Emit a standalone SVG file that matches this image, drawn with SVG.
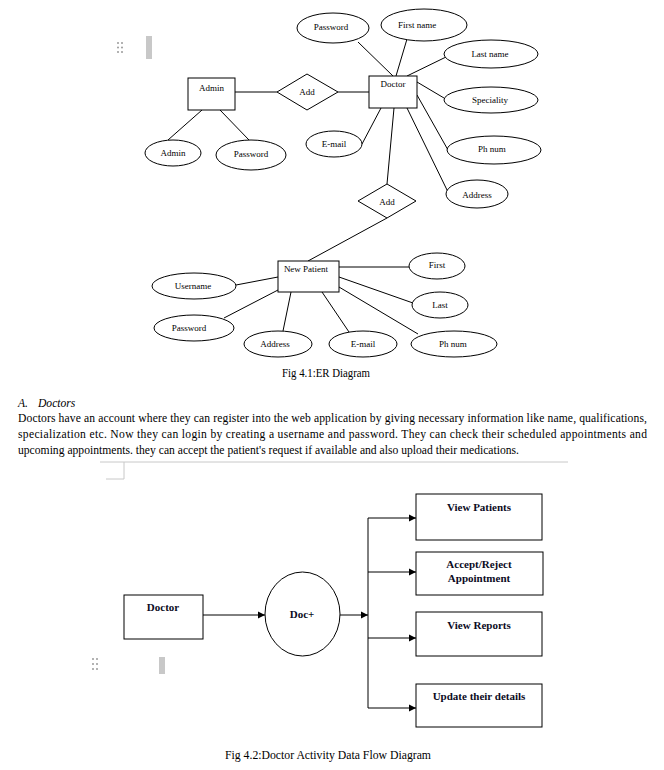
<svg xmlns="http://www.w3.org/2000/svg" width="664" height="770" viewBox="0 0 664 770">
<defs>
<style>
.s{fill:#fff;stroke:#000;stroke-width:1}
.l{stroke:#000;stroke-width:1;fill:none}
.t{font-family:"Liberation Serif","Times New Roman",serif;font-size:9px;fill:#000;text-anchor:middle}
.b{font-family:"Liberation Serif","Times New Roman",serif;font-size:11px;font-weight:bold;fill:#0b0b1e;text-anchor:middle}
.p{font-family:"Liberation Serif","Times New Roman",serif;font-size:11.6px;fill:#000}
.d{fill:#9a9a9a}
</style>
<marker id="ah" markerWidth="8" markerHeight="8" refX="7" refY="4" orient="auto" markerUnits="userSpaceOnUse">
<path d="M0,0.5 L7,4 L0,7.5 Z" fill="#000"/>
</marker>
</defs>
<rect width="664" height="770" fill="#fff"/>

<!-- UI artifacts -->
<g id="handle1">
<circle cx="118" cy="43" r="1" class="d"/><circle cx="122" cy="43" r="1" class="d"/>
<circle cx="118" cy="47.5" r="1" class="d"/><circle cx="122" cy="47.5" r="1" class="d"/>
<circle cx="118" cy="52" r="1" class="d"/><circle cx="122" cy="52" r="1" class="d"/>
<rect x="146" y="36" width="6" height="23" fill="#c8c8c8"/>
</g>
<g id="handle2">
<circle cx="93" cy="659" r="1" class="d"/><circle cx="97" cy="659" r="1" class="d"/>
<circle cx="93" cy="664" r="1" class="d"/><circle cx="97" cy="664" r="1" class="d"/>
<circle cx="93" cy="669" r="1" class="d"/><circle cx="97" cy="669" r="1" class="d"/>
<rect x="159" y="657" width="6" height="17" fill="#c8c8c8"/>
</g>

<!-- ER connectors -->
<g id="er-connectors" class="l">
<line x1="235" y1="92" x2="277" y2="92"/>
<line x1="338" y1="92" x2="369" y2="92"/>
<line x1="202" y1="110" x2="168" y2="140"/>
<line x1="220" y1="110" x2="249" y2="140"/>
<line x1="358" y1="42" x2="393" y2="76"/>
<line x1="407" y1="39" x2="396" y2="76"/>
<line x1="446" y1="57" x2="407" y2="76"/>
<line x1="417" y1="82" x2="444" y2="98"/>
<line x1="417" y1="95" x2="448" y2="150"/>
<line x1="407" y1="108" x2="448" y2="192"/>
<line x1="381" y1="108" x2="362" y2="144"/>
<line x1="394" y1="108" x2="387" y2="184"/>
<line x1="387" y1="218" x2="308" y2="261"/>
<line x1="339" y1="267" x2="409" y2="267"/>
<line x1="339" y1="277" x2="413" y2="303"/>
<line x1="339" y1="287" x2="418" y2="334"/>
<line x1="322" y1="292" x2="349" y2="332"/>
<line x1="291" y1="292" x2="283" y2="331"/>
<line x1="278" y1="290" x2="224" y2="318"/>
<line x1="278" y1="277" x2="236" y2="285"/>
</g>

<!-- ER nodes -->
<g id="admin"><rect x="188" y="78" width="47" height="32" class="s"/><text x="211.5" y="91" class="t">Admin</text></g>
<g id="add1"><polygon points="277,92 307,74 338,92 307,110" class="s"/><text x="307" y="95" class="t">Add</text></g>
<g id="doctor"><rect x="369" y="76" width="48" height="32" class="s"/><text x="393" y="87" class="t">Doctor</text></g>
<g id="admin-attr"><ellipse cx="173" cy="153" rx="28" ry="13" class="s"/><text x="173" y="156" class="t">Admin</text></g>
<g id="admin-password"><ellipse cx="251" cy="155" rx="35" ry="15" class="s"/><text x="251" y="157" class="t">Password</text></g>
<g id="doc-password"><ellipse cx="333" cy="28" rx="36" ry="15" class="s"/><text x="331" y="30" class="t">Password</text></g>
<g id="doc-firstname"><ellipse cx="424" cy="25" rx="43" ry="16" class="s"/><text x="417" y="28" class="t">First name</text></g>
<g id="doc-lastname"><ellipse cx="491" cy="54" rx="47" ry="14" class="s"/><text x="490" y="57" class="t">Last name</text></g>
<g id="doc-speciality"><ellipse cx="491" cy="100" rx="47" ry="13" class="s"/><text x="490" y="103" class="t">Speciality</text></g>
<g id="doc-phnum"><ellipse cx="494" cy="150" rx="47" ry="14" class="s"/><text x="492" y="152" class="t">Ph num</text></g>
<g id="doc-address"><ellipse cx="477" cy="194" rx="31" ry="14" class="s"/><text x="477" y="198" class="t">Address</text></g>
<g id="doc-email"><ellipse cx="334" cy="144" rx="28" ry="13" class="s"/><text x="334" y="147" class="t">E-mail</text></g>
<g id="add2"><polygon points="358,201 387,184 416,201 387,218" class="s"/><text x="387" y="205" class="t">Add</text></g>
<g id="newpatient"><rect x="278" y="261" width="61" height="31" class="s"/><text x="306" y="272" class="t">New Patient</text></g>
<g id="np-first"><ellipse cx="437" cy="266" rx="28" ry="13" class="s"/><text x="437" y="268" class="t">First</text></g>
<g id="np-last"><ellipse cx="440" cy="305" rx="28" ry="13" class="s"/><text x="440" y="308" class="t">Last</text></g>
<g id="np-phnum"><ellipse cx="454" cy="344" rx="43" ry="13" class="s"/><text x="453" y="347" class="t">Ph num</text></g>
<g id="np-email"><ellipse cx="363" cy="344" rx="34" ry="13" class="s"/><text x="363" y="347" class="t">E-mail</text></g>
<g id="np-address"><ellipse cx="278" cy="344" rx="34" ry="13" class="s"/><text x="275" y="347" class="t">Address</text></g>
<g id="np-password"><ellipse cx="194" cy="328" rx="40" ry="13" class="s"/><text x="189" y="331" class="t">Password</text></g>
<g id="np-username"><ellipse cx="194" cy="286" rx="42" ry="13" class="s"/><text x="193" y="289" class="t">Username</text></g>

<text x="282" y="377" class="p" textLength="88" lengthAdjust="spacingAndGlyphs">Fig 4.1:ER Diagram</text>

<!-- text block -->
<text x="18" y="407" class="p" font-style="italic">A.</text>
<text x="38" y="407" class="p" font-style="italic">Doctors</text>
<text x="18" y="422" class="p" textLength="629" lengthAdjust="spacing">Doctors have an account where they can register into the web application by giving necessary information like name, qualifications,</text>
<text x="18" y="438" class="p" textLength="629" lengthAdjust="spacing">specialization etc. Now they can login by creating a username and password. They can check their scheduled appointments and</text>
<text x="18" y="454" class="p" textLength="501" lengthAdjust="spacingAndGlyphs">upcoming appointments. they can accept the patient's request if available and also upload their medications.</text>

<g id="frame" stroke="#c8c8c8" stroke-width="1" fill="none">
<line x1="100" y1="462" x2="568" y2="462"/>
<polyline points="106,479 124,479 124,462"/>
</g>

<!-- DFD connectors -->
<g id="dfd-connectors" class="l">
<line x1="203" y1="615" x2="265" y2="615" marker-end="url(#ah)"/>
<line x1="340" y1="615" x2="368" y2="615" marker-end="url(#ah)"/>
<line x1="368" y1="518" x2="368" y2="708"/>
<line x1="368" y1="518" x2="416" y2="518" marker-end="url(#ah)"/>
<line x1="368" y1="572" x2="416" y2="572" marker-end="url(#ah)"/>
<line x1="368" y1="638" x2="416" y2="638" marker-end="url(#ah)"/>
<line x1="368" y1="708" x2="416" y2="708" marker-end="url(#ah)"/>
</g>

<!-- DFD nodes -->
<g id="dfd-doctor"><rect x="124" y="595" width="79" height="44" class="s"/><text x="163" y="611" class="b">Doctor</text></g>
<g id="docplus"><ellipse cx="302.5" cy="614" rx="37.5" ry="42" class="s"/><text x="302" y="618" class="b">Doc+</text></g>
<g id="viewpatients"><rect x="416" y="494" width="126" height="46" class="s"/><text x="479" y="511" class="b">View Patients</text></g>
<g id="acceptreject"><rect x="416" y="552" width="127" height="43" class="s"/><text x="479" y="568" class="b">Accept/Reject</text><text x="479" y="582" class="b">Appointment</text></g>
<g id="viewreports"><rect x="416" y="612" width="126" height="44" class="s"/><text x="479" y="629" class="b">View Reports</text></g>
<g id="update"><rect x="416" y="684" width="126" height="43" class="s"/><text x="479" y="700" class="b">Update their details</text></g>

<text x="225" y="759" class="p" textLength="206" lengthAdjust="spacingAndGlyphs">Fig 4.2:Doctor Activity Data Flow Diagram</text>
</svg>
